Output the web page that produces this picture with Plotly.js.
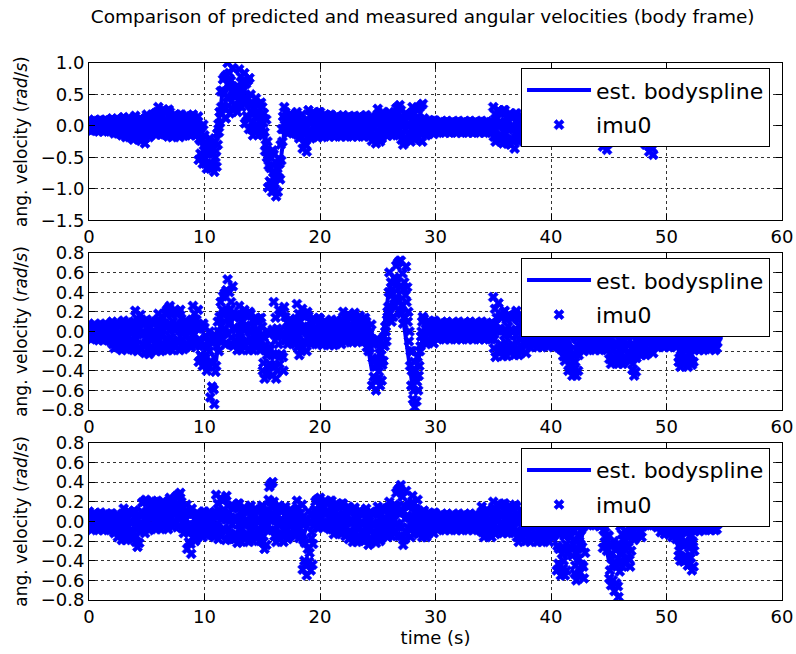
<!DOCTYPE html>
<html>
<head>
<meta charset="utf-8">
<script src="https://cdn.plot.ly/plotly-3.0.1.min.js"></script>
<style>html,body{margin:0;padding:0;background:#fff;}#chart{width:796px;height:654px;}</style>
</head>
<body>
<div id="chart"></div>
<script>
// sampling of the series (seconds)
const imuStart = 0, imuStep = 0.05;
const splineStart = 0, splineStep = 0.5;

const seriesNames = ["est. bodyspline", "imu0"];
const xTicks = [0, 10, 20, 30, 40, 50, 60];

// ---- axis 1 (rad/s), one line per second ----
const imu1 = [
 0.10,-0.05,-0.03,0.06,-0.08,0.02,0.04,-0.06,0.00,0.08, -0.07,0.02,0.07,-0.04,0.01,0.08,-0.05,-0.09,0.09,-0.01,   // 0
 0.10,-0.06,-0.03,0.06,-0.09,0.01,0.03,-0.07,0.00,0.08, -0.07,0.03,0.08,-0.04,0.02,0.09,-0.05,-0.09,0.10,0.00,    // 1
 0.12,-0.08,-0.05,0.07,-0.12,0.01,0.04,-0.10,-0.01,0.10, -0.12,0.02,0.09,-0.08,0.00,0.10,-0.09,-0.15,0.12,-0.02,  // 2
 0.14,-0.13,-0.08,0.08,-0.18,0.00,0.03,-0.15,-0.04,0.11, -0.18,0.00,0.09,-0.13,-0.02,0.11,-0.15,-0.22,0.13,-0.05, // 3
 0.16,-0.15,-0.09,0.09,-0.20,0.00,0.03,-0.16,-0.04,0.12, -0.24,-0.03,0.08,-0.18,-0.05,0.10,-0.20,-0.28,0.12,-0.09,// 4
 0.18,-0.13,-0.07,0.11,-0.18,0.02,0.05,-0.14,-0.02,0.14, -0.10,0.09,0.18,-0.05,0.07,0.20,-0.06,-0.14,0.22,0.03,   // 5
 0.30,-0.07,-0.01,0.21,-0.14,0.10,0.15,-0.10,0.06,0.26, -0.13,0.10,0.21,-0.06,0.08,0.24,-0.08,-0.17,0.26,0.03,    // 6
 0.22,-0.12,-0.06,0.14,-0.18,0.04,0.08,-0.14,0.00,0.18, -0.14,0.05,0.14,-0.09,0.03,0.16,-0.10,-0.18,0.18,-0.01,   // 7
 0.18,-0.11,-0.06,0.11,-0.16,0.03,0.06,-0.13,-0.01,0.15, -0.12,0.05,0.13,-0.07,0.03,0.15,-0.08,-0.15,0.16,0.00,   // 8
 0.18,-0.10,-0.05,0.11,-0.15,0.03,0.06,-0.12,0.00,0.15, -0.54,-0.21,-0.05,-0.44,-0.24,-0.02,-0.47,-0.60,0.02,-0.31, // 9
 -0.15,-0.60,-0.52,-0.26,-0.68,-0.39,-0.34,-0.63,-0.44,-0.20, -0.68,-0.42,-0.30,-0.60,-0.45,-0.27,-0.63,-0.73,-0.25,-0.50, // 10
 -0.40,-0.65,-0.12,-0.30,0.03,-0.10,0.22,0.05,0.55,0.30, 0.19,0.56,0.74,0.30,0.52,0.78,0.27,0.12,0.81,0.45,      // 11
 1.00,0.32,0.44,0.84,0.20,0.64,0.72,0.28,0.56,0.92, 0.26,0.48,0.59,0.33,0.46,0.61,0.31,0.22,0.63,0.41,           // 12
 0.90,0.39,0.48,0.78,0.30,0.63,0.69,0.36,0.57,0.84, 0.04,0.46,0.67,0.16,0.42,0.72,0.12,-0.05,0.76,0.33,          // 13
 0.50,-0.05,0.05,0.37,-0.15,0.21,0.27,-0.09,0.14,0.44, -0.07,0.19,0.32,0.01,0.17,0.35,-0.02,-0.12,0.37,0.11,     // 14
 0.30,-0.15,0.05,0.20,-0.10,-0.40,-0.30,0.10,-0.50,-0.25, -0.98,-0.63,-0.46,-0.88,-0.67,-0.42,-0.91,-1.05,-0.39,-0.74, // 15
 -0.45,-1.02,-0.92,-0.58,-1.12,-0.75,-0.68,-1.05,-0.82,-0.52, -0.60,-0.85,-0.30,-0.55,-0.05,-0.25,0.15,-0.05,0.30,0.10, // 16
 0.22,-0.07,-0.02,0.15,-0.12,0.07,0.10,-0.09,0.03,0.19, -0.09,0.07,0.15,-0.04,0.06,0.17,-0.06,-0.12,0.18,0.02,   // 17
 0.22,-0.14,-0.07,0.14,-0.20,0.03,0.07,-0.16,-0.01,0.18, -0.36,-0.10,0.02,-0.28,-0.13,0.05,-0.31,-0.41,0.07,-0.18, // 18
 0.25,-0.13,-0.07,0.16,-0.20,0.05,0.09,-0.16,0.00,0.21, -0.14,0.07,0.18,-0.08,0.05,0.20,-0.10,-0.18,0.22,0.01,   // 19
 0.22,-0.12,-0.06,0.14,-0.18,0.04,0.08,-0.14,0.00,0.18, -0.13,0.05,0.14,-0.08,0.03,0.16,-0.10,-0.17,0.18,0.00,   // 20
 0.17,-0.12,-0.07,0.10,-0.17,0.02,0.05,-0.14,-0.02,0.14, -0.14,0.03,0.12,-0.09,0.02,0.14,-0.10,-0.17,0.15,-0.02, // 21
 0.17,-0.12,-0.07,0.10,-0.17,0.02,0.05,-0.14,-0.02,0.14, -0.14,0.03,0.12,-0.09,0.02,0.14,-0.10,-0.17,0.15,-0.02, // 22
 0.16,-0.12,-0.06,0.10,-0.17,0.02,0.05,-0.14,-0.01,0.14, -0.13,0.03,0.12,-0.09,0.02,0.14,-0.10,-0.17,0.16,-0.02, // 23
 0.17,-0.12,-0.07,0.10,-0.17,0.02,0.05,-0.14,-0.02,0.14, -0.24,-0.01,0.10,-0.17,-0.03,0.13,-0.19,-0.28,0.15,-0.08, // 24
 0.27,-0.17,-0.09,0.17,-0.25,0.04,0.09,-0.20,-0.02,0.22, -0.12,0.06,0.15,-0.07,0.04,0.16,-0.09,-0.16,0.18,0.00,  // 25
 0.22,-0.09,-0.04,0.15,-0.15,0.05,0.09,-0.11,0.02,0.18, -0.10,0.15,0.28,-0.03,0.13,0.30,-0.05,-0.15,0.33,0.08,   // 26
 0.25,-0.22,-0.14,0.14,-0.30,0.00,0.06,-0.25,-0.05,0.20, -0.20,0.03,0.15,-0.13,0.01,0.17,-0.16,-0.25,0.20,-0.04, // 27
 0.30,-0.14,-0.06,0.20,-0.22,0.07,0.12,-0.17,0.01,0.25, -0.19,0.13,0.29,-0.09,0.10,0.32,-0.12,-0.25,0.35,0.03,   // 28
 0.12,-0.11,-0.07,0.07,-0.15,0.00,0.03,-0.12,-0.03,0.09, -0.11,0.01,0.07,-0.07,0.00,0.08,-0.08,-0.13,0.09,-0.03, // 29
 0.08,-0.08,-0.05,0.04,-0.11,-0.01,0.01,-0.09,-0.02,0.06, -0.09,0.00,0.05,-0.06,-0.01,0.06,-0.07,-0.11,0.07,-0.03, // 30
 0.08,-0.08,-0.05,0.04,-0.11,-0.01,0.01,-0.09,-0.02,0.06, -0.09,0.00,0.05,-0.06,-0.01,0.06,-0.07,-0.11,0.07,-0.03, // 31
 0.08,-0.08,-0.05,0.04,-0.11,-0.01,0.01,-0.09,-0.02,0.06, -0.09,0.00,0.05,-0.06,-0.01,0.06,-0.07,-0.11,0.07,-0.03, // 32
 0.08,-0.08,-0.05,0.04,-0.11,-0.01,0.01,-0.09,-0.02,0.06, -0.09,0.00,0.05,-0.06,-0.01,0.06,-0.07,-0.11,0.07,-0.03, // 33
 0.08,-0.08,-0.05,0.04,-0.11,-0.01,0.01,-0.09,-0.02,0.06, -0.09,0.00,0.05,-0.06,-0.01,0.06,-0.07,-0.11,0.07,-0.03, // 34
 0.30,-0.17,-0.09,0.19,-0.25,0.05,0.11,-0.20,0.00,0.25, -0.22,0.06,0.20,-0.14,0.03,0.22,-0.17,-0.28,0.25,-0.03,  // 35
 0.25,-0.20,-0.12,0.14,-0.28,0.01,0.06,-0.23,-0.04,0.20, -0.30,-0.01,0.13,-0.22,-0.04,0.16,-0.24,-0.36,0.19,-0.10, // 36
 0.20,-0.18,-0.12,0.11,-0.25,0.00,0.04,-0.21,-0.05,0.16, -0.18,0.02,0.12,-0.12,0.00,0.14,-0.14,-0.22,0.16,-0.04, // 37
 0.15,-0.15,-0.10,0.08,-0.20,-0.01,0.03,-0.17,-0.04,0.12, -0.17,0.01,0.10,-0.11,-0.01,0.12,-0.13,-0.20,0.13,-0.04, // 38
 0.15,-0.15,-0.10,0.08,-0.20,-0.01,0.03,-0.17,-0.04,0.12, -0.17,0.01,0.10,-0.11,-0.01,0.12,-0.13,-0.20,0.13,-0.04, // 39
 0.15,-0.15,-0.10,0.08,-0.20,-0.01,0.03,-0.17,-0.04,0.12, -0.17,0.01,0.10,-0.11,-0.01,0.12,-0.13,-0.20,0.13,-0.04, // 40
 0.15,-0.15,-0.10,0.08,-0.20,-0.01,0.03,-0.17,-0.04,0.12, -0.17,0.01,0.10,-0.11,-0.01,0.12,-0.13,-0.20,0.13,-0.04, // 41
 0.15,-0.15,-0.10,0.08,-0.20,-0.01,0.03,-0.17,-0.04,0.12, -0.17,0.01,0.10,-0.11,-0.01,0.12,-0.13,-0.20,0.13,-0.04, // 42
 0.15,-0.15,-0.10,0.08,-0.20,-0.01,0.03,-0.17,-0.04,0.12, -0.17,0.01,0.10,-0.11,-0.01,0.12,-0.13,-0.20,0.13,-0.04, // 43
 0.15,-0.15,-0.10,0.08,-0.20,-0.01,0.03,-0.17,-0.04,0.12, -0.33,-0.08,0.05,-0.26,-0.11,0.07,-0.28,-0.38,0.10,-0.16, // 44
 0.15,-0.18,-0.12,0.07,-0.24,-0.03,0.01,-0.20,-0.06,0.11, -0.20,-0.01,0.09,-0.14,-0.03,0.11,-0.16,-0.24,0.13,-0.07, // 45
 0.15,-0.18,-0.12,0.07,-0.24,-0.03,0.01,-0.20,-0.06,0.11, -0.20,-0.01,0.09,-0.14,-0.03,0.11,-0.16,-0.24,0.13,-0.07, // 46
 0.15,-0.18,-0.12,0.07,-0.24,-0.03,0.01,-0.20,-0.06,0.11, -0.20,-0.01,0.09,-0.14,-0.03,0.11,-0.16,-0.24,0.13,-0.07, // 47
 0.10,-0.24,-0.18,0.02,-0.30,-0.08,-0.04,-0.26,-0.12,0.06, -0.41,-0.15,-0.02,-0.33,-0.18,0.00,-0.36,-0.46,0.02,-0.23, // 48
 0.15,-0.15,-0.10,0.08,-0.20,-0.01,0.03,-0.17,-0.04,0.12, -0.17,0.01,0.10,-0.11,-0.01,0.12,-0.13,-0.20,0.13,-0.04, // 49
 0.15,-0.15,-0.10,0.08,-0.20,-0.01,0.03,-0.17,-0.04,0.12, -0.17,0.01,0.10,-0.11,-0.01,0.12,-0.13,-0.20,0.13,-0.04, // 50
 0.15,-0.15,-0.10,0.08,-0.20,-0.01,0.03,-0.17,-0.04,0.12, -0.17,0.01,0.10,-0.11,-0.01,0.12,-0.13,-0.20,0.13,-0.04, // 51
 0.15,-0.15,-0.10,0.08,-0.20,-0.01,0.03,-0.17,-0.04,0.12, -0.17,0.01,0.10,-0.11,-0.01,0.12,-0.13,-0.20,0.13,-0.04, // 52
 0.15,-0.15,-0.10,0.08,-0.20,-0.01,0.03,-0.17,-0.04,0.12, -0.17,0.01,0.10,-0.11,-0.01,0.12,-0.13,-0.20,0.13,-0.04, // 53
 0.15,-0.15,-0.10,0.08,-0.20,-0.01,0.03,-0.17,-0.04,0.12                                                          // 54
];
const spline1 = [
 0.01,0.01, 0.00,0.00, -0.01,-0.02, -0.02,-0.03, -0.03,-0.05,
 0.02,0.04, 0.08,0.08, 0.03,0.02, 0.01,0.02, 0.02,-0.10,
 -0.45,-0.45, -0.30,0.45, 0.70,0.45, 0.60,0.40, 0.20,0.15,
 0.10,-0.60, -0.85,-0.70, 0.05,0.03, 0.00,-0.15, 0.03,0.03,
 0.02,0.01, 0.00,0.00, -0.01,0.00, 0.00,-0.01, -0.01,-0.05,
 0.02,0.03, 0.05,0.10, 0.00,-0.02, 0.05,0.08, -0.01,-0.01,
 -0.01,-0.01, -0.01,-0.01, -0.01,-0.01, -0.01,-0.01, -0.01,-0.01,
 0.03,0.02, -0.02,-0.10, 0.00,-0.02, 0.00,-0.01, 0.00,0.00,
 0.00,-0.01, -0.01,0.00, 0.00,0.00, -0.05,-0.15, 0.00,-0.02,
 -0.02,0.00, -0.02,-0.01, -0.10,-0.25, 0.00,0.00, 0.00,-0.01,
 -0.01,0.00, 0.00,0.00, -0.01,0.00, 0.00,0.00, 0.00
];

// ---- axis 2 (rad/s) ----
const imu2 = [
 0.08,-0.06,-0.03,0.05,-0.08,0.01,0.02,-0.06,-0.01,0.06, -0.07,0.01,0.05,-0.05,0.00,0.06,-0.06,-0.09,0.07,-0.01,  // 0
 0.08,-0.06,-0.04,0.05,-0.09,0.00,0.02,-0.07,-0.01,0.06, -0.08,0.01,0.06,-0.05,0.00,0.07,-0.06,-0.10,0.08,-0.01,  // 1
 0.10,-0.13,-0.09,0.05,-0.17,-0.02,0.01,-0.14,-0.05,0.07, -0.16,-0.01,0.07,-0.12,-0.03,0.08,-0.13,-0.19,0.10,-0.06, // 2
 0.11,-0.14,-0.09,0.05,-0.18,-0.02,0.01,-0.15,-0.05,0.08, -0.16,0.00,0.07,-0.11,-0.02,0.09,-0.13,-0.19,0.10,-0.05, // 3
 0.21,-0.14,-0.08,0.13,-0.20,0.03,0.07,-0.16,-0.02,0.17, -0.18,-0.01,0.08,-0.13,-0.03,0.10,-0.15,-0.22,0.11,-0.06, // 4
 0.12,-0.18,-0.13,0.05,-0.23,-0.04,0.00,-0.20,-0.07,0.09, -0.17,0.00,0.08,-0.12,-0.02,0.10,-0.13,-0.20,0.11,-0.05, // 5
 0.18,-0.14,-0.09,0.10,-0.20,0.01,0.05,-0.16,-0.03,0.14, -0.15,0.08,0.19,-0.08,0.06,0.22,-0.10,-0.19,0.24,0.01,   // 6
 0.26,-0.12,-0.06,0.17,-0.19,0.06,0.10,-0.15,0.01,0.22, -0.15,0.07,0.18,-0.08,0.05,0.20,-0.10,-0.19,0.22,0.00,   // 7
 0.13,-0.13,-0.09,0.07,-0.18,-0.01,0.02,-0.15,-0.04,0.10, -0.13,0.01,0.09,-0.09,0.00,0.10,-0.10,-0.16,0.12,-0.03, // 8
 0.26,-0.09,-0.03,0.18,-0.15,0.08,0.12,-0.11,0.03,0.22, -0.31,-0.08,0.03,-0.24,-0.10,0.06,-0.26,-0.35,0.08,-0.15, // 9
 0.04,-0.33,-0.27,-0.05,-0.40,-0.16,-0.11,-0.36,-0.20,0.00, -0.67,-0.30,-0.11,-0.56,-0.33,-0.07,-0.59,-0.74,-0.04,-0.41, // 10
 -0.35,-0.05,-0.15,0.10,0.00,-0.20,0.15,-0.10,0.30,0.05, -0.07,0.22,0.36,0.02,0.19,0.39,-0.01,-0.13,0.42,0.13,   // 11
 0.53,-0.03,0.07,0.40,-0.13,0.23,0.30,-0.06,0.17,0.46, -0.15,0.04,0.14,-0.09,0.02,0.16,-0.11,-0.19,0.18,-0.02,   // 12
 0.26,-0.12,-0.06,0.17,-0.19,0.06,0.10,-0.15,0.01,0.22, -0.15,0.06,0.16,-0.09,0.04,0.18,-0.11,-0.19,0.20,-0.01,  // 13
 0.18,-0.14,-0.08,0.11,-0.19,0.01,0.05,-0.15,-0.02,0.14, -0.16,0.02,0.11,-0.10,0.00,0.13,-0.12,-0.19,0.14,-0.03,  // 14
 0.05,-0.40,-0.32,-0.06,-0.48,-0.19,-0.14,-0.43,-0.24,0.00, -0.40,-0.16,-0.03,-0.33,-0.18,-0.01,-0.35,-0.45,0.02,-0.23, // 15
 0.30,-0.36,-0.25,0.14,-0.48,-0.05,0.03,-0.40,-0.13,0.22, -0.33,0.01,0.18,-0.23,-0.03,0.21,-0.26,-0.40,0.25,-0.09, // 16
 0.15,-0.09,-0.05,0.09,-0.13,0.02,0.05,-0.10,-0.01,0.12, -0.10,0.03,0.10,-0.06,0.02,0.11,-0.08,-0.13,0.13,-0.01,  // 17
 0.28,-0.16,-0.08,0.18,-0.24,0.05,0.10,-0.19,-0.01,0.23, -0.16,0.05,0.16,-0.10,0.03,0.18,-0.12,-0.20,0.20,-0.01,  // 18
 0.16,-0.09,-0.04,0.10,-0.13,0.03,0.06,-0.10,0.00,0.13, -0.10,0.04,0.11,-0.06,0.02,0.12,-0.07,-0.13,0.14,0.00,    // 19
 0.13,-0.10,-0.06,0.08,-0.14,0.01,0.04,-0.11,-0.02,0.10, -0.11,0.02,0.08,-0.08,0.00,0.09,-0.09,-0.14,0.11,-0.02,  // 20
 0.12,-0.10,-0.06,0.07,-0.14,0.00,0.03,-0.11,-0.02,0.09, -0.10,0.03,0.09,-0.07,0.01,0.10,-0.08,-0.13,0.12,-0.01,  // 21
 0.20,-0.06,-0.02,0.14,-0.11,0.06,0.09,-0.08,0.03,0.17, -0.08,0.07,0.15,-0.04,0.06,0.16,-0.05,-0.11,0.17,0.03,    // 22
 0.19,-0.07,-0.02,0.13,-0.11,0.06,0.09,-0.08,0.03,0.16, -0.08,0.05,0.11,-0.04,0.04,0.13,-0.05,-0.10,0.14,0.01,    // 23
 0.10,-0.16,-0.11,0.04,-0.20,-0.04,-0.01,-0.17,-0.07,0.07, -0.55,-0.27,-0.13,-0.46,-0.30,-0.11,-0.49,-0.60,-0.08,-0.35, // 24
 -0.08,-0.48,-0.41,-0.17,-0.55,-0.29,-0.24,-0.50,-0.34,-0.13, -0.30,-0.05,-0.15,0.05,0.00,-0.10,0.12,0.20,0.25,0.40, // 25
 0.60,0.18,0.25,0.50,0.10,0.38,0.43,0.15,0.33,0.55, 0.26,0.53,0.67,0.34,0.50,0.70,0.31,0.20,0.72,0.45,            // 26
 0.72,0.18,0.27,0.59,0.08,0.43,0.50,0.14,0.37,0.66, 0.30,0.45,0.10,0.20,-0.10,0.00,-0.35,-0.20,-0.55,-0.40,       // 27
 -0.20,-0.69,-0.60,-0.31,-0.77,-0.46,-0.40,-0.71,-0.51,-0.26, -0.60,-0.45,-0.35,-0.20,-0.15,-0.05,0.00,0.10,0.15,-0.10, // 28
 0.13,-0.09,-0.05,0.08,-0.13,0.01,0.04,-0.10,-0.01,0.10, -0.10,0.02,0.08,-0.06,0.01,0.10,-0.07,-0.12,0.11,-0.01,  // 29
 0.10,-0.05,-0.03,0.06,-0.08,0.02,0.04,-0.06,0.00,0.08, -0.06,0.03,0.07,-0.04,0.02,0.08,-0.04,-0.08,0.09,0.00,    // 30
 0.10,-0.05,-0.03,0.06,-0.08,0.02,0.04,-0.06,0.00,0.08, -0.06,0.03,0.07,-0.04,0.02,0.08,-0.04,-0.08,0.09,0.00,    // 31
 0.10,-0.05,-0.03,0.06,-0.08,0.02,0.04,-0.06,0.00,0.08, -0.06,0.03,0.07,-0.04,0.02,0.08,-0.04,-0.08,0.09,0.00,    // 32
 0.10,-0.05,-0.03,0.06,-0.08,0.02,0.04,-0.06,0.00,0.08, -0.06,0.03,0.07,-0.04,0.02,0.08,-0.04,-0.08,0.09,0.00,    // 33
 0.10,-0.05,-0.03,0.06,-0.08,0.02,0.04,-0.06,0.00,0.08, -0.06,0.03,0.07,-0.04,0.02,0.08,-0.04,-0.08,0.09,0.00,    // 34
 0.35,-0.17,-0.08,0.23,-0.26,0.08,0.14,-0.20,0.01,0.29, -0.20,0.03,0.15,-0.13,0.01,0.17,-0.16,-0.25,0.20,-0.04,  // 35
 0.21,-0.18,-0.11,0.12,-0.25,0.00,0.05,-0.20,-0.04,0.16, -0.20,0.02,0.13,-0.13,0.00,0.16,-0.15,-0.24,0.18,-0.04,  // 36
 0.21,-0.17,-0.11,0.12,-0.24,0.01,0.05,-0.20,-0.04,0.17, -0.18,0.02,0.12,-0.12,0.00,0.14,-0.14,-0.22,0.16,-0.04,  // 37
 0.14,-0.12,-0.07,0.08,-0.16,0.01,0.04,-0.13,-0.02,0.11, -0.13,0.01,0.08,-0.09,-0.01,0.09,-0.10,-0.16,0.11,-0.03, // 38
 0.12,-0.12,-0.08,0.06,-0.16,-0.01,0.02,-0.13,-0.03,0.09, -0.13,0.00,0.06,-0.09,-0.01,0.08,-0.10,-0.15,0.09,-0.04, // 39
 0.10,-0.12,-0.08,0.05,-0.16,-0.02,0.01,-0.13,-0.04,0.07, -0.15,-0.02,0.04,-0.12,-0.04,0.05,-0.13,-0.18,0.07,-0.06, // 40
 0.05,-0.25,-0.20,-0.02,-0.30,-0.11,-0.07,-0.27,-0.14,0.02, -0.40,-0.17,-0.05,-0.33,-0.19,-0.03,-0.36,-0.45,0.00,-0.24, // 41
 0.02,-0.38,-0.31,-0.07,-0.45,-0.19,-0.14,-0.40,-0.24,-0.03, -0.17,-0.03,0.04,-0.13,-0.05,0.05,-0.14,-0.20,0.07,-0.07, // 42
 0.08,-0.15,-0.11,0.03,-0.19,-0.04,-0.01,-0.16,-0.07,0.05, -0.16,-0.03,0.04,-0.12,-0.04,0.05,-0.14,-0.19,0.07,-0.07, // 43
 0.05,-0.15,-0.12,0.00,-0.19,-0.06,-0.03,-0.17,-0.08,0.03, -0.17,-0.05,0.01,-0.13,-0.06,0.03,-0.14,-0.19,0.04,-0.08, // 44
 0.00,-0.28,-0.23,-0.07,-0.33,-0.15,-0.12,-0.30,-0.18,-0.03, -0.30,-0.12,-0.03,-0.24,-0.14,-0.02,-0.26,-0.33,0.00,-0.17, // 45
 0.02,-0.28,-0.23,-0.05,-0.33,-0.14,-0.10,-0.30,-0.17,-0.02, -0.27,-0.12,-0.05,-0.23,-0.14,-0.03,-0.24,-0.30,-0.02,-0.17, // 46
 -0.05,-0.39,-0.33,-0.13,-0.45,-0.23,-0.19,-0.41,-0.27,-0.09, -0.21,-0.07,0.01,-0.17,-0.08,0.02,-0.18,-0.24,0.04,-0.11, // 47
 0.05,-0.20,-0.15,-0.01,-0.24,-0.08,-0.05,-0.21,-0.11,0.02, -0.19,-0.06,0.01,-0.15,-0.07,0.02,-0.17,-0.22,0.04,-0.10, // 48
 0.04,-0.13,-0.10,0.00,-0.16,-0.05,-0.03,-0.14,-0.07,0.02, -0.14,-0.04,0.01,-0.11,-0.05,0.02,-0.12,-0.16,0.03,-0.07, // 49
 0.05,-0.13,-0.10,0.01,-0.16,-0.04,-0.02,-0.14,-0.07,0.03, -0.14,-0.03,0.02,-0.11,-0.04,0.03,-0.12,-0.16,0.04,-0.07, // 50
 -0.05,-0.31,-0.27,-0.11,-0.36,-0.19,-0.16,-0.33,-0.22,-0.08, -0.33,-0.17,-0.10,-0.28,-0.19,-0.08,-0.30,-0.36,-0.07,-0.22, // 51
 0.00,-0.29,-0.24,-0.07,-0.34,-0.15,-0.12,-0.31,-0.19,-0.03, -0.17,-0.08,-0.03,-0.14,-0.09,-0.02,-0.15,-0.19,-0.01,-0.10, // 52
 0.02,-0.16,-0.13,-0.02,-0.19,-0.07,-0.05,-0.17,-0.10,0.00, -0.16,-0.07,-0.03,-0.14,-0.08,-0.02,-0.14,-0.18,-0.01,-0.10, // 53
 -0.02,-0.16,-0.14,-0.05,-0.19,-0.10,-0.08,-0.17,-0.11,-0.04                                                      // 54
];
const spline2 = [
 0.00,0.00, 0.00,-0.01, -0.03,-0.04, -0.03,-0.03, 0.00,-0.03,
 -0.04,-0.03, 0.02,0.04, 0.05,0.04, -0.01,0.00, 0.05,-0.15,
 -0.15,-0.20, -0.30,0.15, 0.25,0.02, 0.03,0.02, -0.01,-0.01,
 -0.20,-0.25, -0.10,-0.05, 0.01,0.00, 0.03,0.00, 0.01,0.00,
 0.00,0.00, -0.01,0.00, 0.04,0.04, 0.04,0.03, -0.05,-0.40,
 -0.30,0.00, 0.45,0.55, 0.30,-0.10, -0.55,-0.30, 0.00,0.00,
 0.01,0.01, 0.01,0.01, 0.01,0.01, 0.01,0.01, 0.01,0.01,
 0.05,-0.02, 0.00,-0.02, 0.00,-0.01, -0.01,-0.02, -0.02,-0.03,
 -0.03,-0.05, -0.10,-0.25, -0.25,-0.08, -0.05,-0.05, -0.05,-0.08,
 -0.15,-0.15, -0.15,-0.20, -0.25,-0.10, -0.08,-0.06, -0.05,-0.05,
 -0.05,-0.06, -0.15,-0.20, -0.15,-0.08, -0.08,-0.08, -0.08
];

// ---- axis 3 (rad/s) ----
const imu3 = [
 0.10,-0.06,-0.03,0.06,-0.09,0.02,0.03,-0.07,0.00,0.08, -0.07,0.02,0.06,-0.05,0.01,0.07,-0.05,-0.09,0.08,-0.01,  // 0
 0.09,-0.06,-0.04,0.05,-0.09,0.01,0.03,-0.07,-0.01,0.07, -0.07,0.02,0.06,-0.05,0.01,0.07,-0.05,-0.09,0.08,-0.01,  // 1
 0.08,-0.09,-0.06,0.04,-0.12,-0.01,0.01,-0.10,-0.03,0.06, -0.16,-0.02,0.05,-0.12,-0.04,0.06,-0.13,-0.19,0.08,-0.06, // 2
 0.13,-0.14,-0.09,0.07,-0.19,-0.01,0.02,-0.16,-0.05,0.10, -0.15,0.00,0.08,-0.11,-0.02,0.09,-0.12,-0.18,0.11,-0.05, // 3
 0.10,-0.21,-0.15,0.03,-0.26,-0.06,-0.03,-0.22,-0.10,0.06, -0.08,0.10,0.19,-0.03,0.08,0.20,-0.05,-0.12,0.22,0.04,  // 4
 0.21,-0.05,0.00,0.15,-0.09,0.08,0.11,-0.06,0.05,0.18, -0.05,0.11,0.18,0.00,0.09,0.20,-0.02,-0.08,0.21,0.06,       // 5
 0.20,-0.04,0.00,0.14,-0.08,0.07,0.10,-0.05,0.05,0.17, -0.05,0.10,0.18,-0.01,0.09,0.19,-0.02,-0.08,0.21,0.06,      // 6
 0.24,-0.02,0.03,0.18,-0.06,0.11,0.14,-0.03,0.08,0.21, -0.01,0.17,0.26,0.04,0.15,0.27,0.02,-0.05,0.29,0.11,        // 7
 0.20,-0.07,-0.02,0.14,-0.12,0.06,0.09,-0.09,0.02,0.17, -0.28,-0.04,0.08,-0.21,-0.07,0.10,-0.23,-0.33,0.13,-0.11,  // 8
 0.08,-0.16,-0.12,0.02,-0.20,-0.05,-0.02,-0.17,-0.07,0.05, -0.13,0.00,0.07,-0.09,-0.01,0.08,-0.11,-0.16,0.10,-0.04, // 9
 0.10,-0.10,-0.07,0.05,-0.14,-0.01,0.02,-0.12,-0.03,0.08, -0.13,0.00,0.07,-0.09,-0.01,0.08,-0.11,-0.16,0.10,-0.04, // 10
 0.27,-0.11,-0.05,0.18,-0.18,0.07,0.11,-0.14,0.02,0.23, -0.14,0.09,0.21,-0.07,0.07,0.23,-0.10,-0.19,0.26,0.02,    // 11
 0.16,-0.13,-0.08,0.09,-0.18,0.01,0.04,-0.15,-0.03,0.13, -0.18,0.03,0.14,-0.12,0.01,0.16,-0.14,-0.22,0.18,-0.03,  // 12
 0.18,-0.15,-0.09,0.10,-0.21,0.01,0.04,-0.17,-0.03,0.14, -0.17,0.01,0.10,-0.12,-0.01,0.12,-0.14,-0.21,0.14,-0.04, // 13
 0.16,-0.15,-0.09,0.09,-0.20,0.00,0.03,-0.16,-0.04,0.12, -0.17,0.01,0.10,-0.11,-0.01,0.12,-0.13,-0.20,0.13,-0.04, // 14
 0.16,-0.21,-0.15,0.07,-0.28,-0.04,0.01,-0.24,-0.08,0.12, -0.04,0.22,0.35,0.04,0.20,0.38,0.01,-0.09,0.40,0.14,    // 15
 0.20,-0.15,-0.09,0.12,-0.21,0.02,0.06,-0.17,-0.03,0.16, -0.17,0.01,0.10,-0.12,-0.01,0.11,-0.14,-0.21,0.13,-0.05, // 16
 0.15,-0.13,-0.08,0.08,-0.18,0.00,0.03,-0.15,-0.03,0.12, -0.12,0.02,0.09,-0.08,0.00,0.10,-0.09,-0.15,0.12,-0.02,  // 17
 0.21,-0.11,-0.06,0.13,-0.17,0.04,0.08,-0.13,0.00,0.17, -0.49,-0.19,-0.04,-0.40,-0.22,-0.01,-0.43,-0.55,0.02,-0.28, // 18
 0.10,-0.41,-0.32,-0.02,-0.50,-0.17,-0.11,-0.44,-0.23,0.04, -0.04,0.12,0.20,0.01,0.11,0.22,-0.01,-0.07,0.23,0.07, // 19
 0.24,-0.02,0.03,0.18,-0.06,0.11,0.14,-0.03,0.08,0.21, -0.05,0.10,0.18,-0.01,0.09,0.19,-0.02,-0.08,0.21,0.06,      // 20
 0.21,-0.08,-0.03,0.14,-0.13,0.06,0.09,-0.10,0.02,0.18, -0.10,0.07,0.15,-0.05,0.05,0.17,-0.06,-0.13,0.18,0.02,    // 21
 0.18,-0.10,-0.05,0.11,-0.15,0.03,0.06,-0.12,0.00,0.15, -0.18,0.00,0.09,-0.12,-0.02,0.11,-0.14,-0.21,0.12,-0.05,  // 22
 0.14,-0.16,-0.11,0.07,-0.21,-0.02,0.02,-0.18,-0.05,0.11, -0.17,-0.01,0.07,-0.12,-0.02,0.09,-0.14,-0.20,0.10,-0.06, // 23
 0.13,-0.19,-0.13,0.06,-0.24,-0.04,0.00,-0.20,-0.07,0.09, -0.19,-0.02,0.07,-0.14,-0.03,0.09,-0.15,-0.22,0.10,-0.07, // 24
 0.15,-0.15,-0.10,0.08,-0.20,-0.01,0.03,-0.17,-0.04,0.12, -0.13,0.03,0.11,-0.08,0.02,0.13,-0.10,-0.16,0.14,-0.02,  // 25
 0.20,-0.10,-0.05,0.13,-0.15,0.04,0.08,-0.12,0.01,0.17, -0.10,0.16,0.29,-0.02,0.14,0.32,-0.05,-0.15,0.34,0.08,    // 26
 0.37,-0.15,-0.06,0.25,-0.24,0.10,0.16,-0.18,0.03,0.31, -0.12,0.06,0.15,-0.07,0.04,0.16,-0.09,-0.16,0.18,0.00,    // 27
 0.26,-0.06,-0.01,0.18,-0.12,0.09,0.13,-0.08,0.05,0.22, -0.13,0.00,0.07,-0.09,-0.01,0.08,-0.11,-0.16,0.10,-0.04,  // 28
 0.11,-0.12,-0.08,0.06,-0.16,-0.01,0.02,-0.13,-0.04,0.08, -0.10,0.01,0.07,-0.07,0.00,0.08,-0.08,-0.12,0.09,-0.02,  // 29
 0.08,-0.06,-0.04,0.05,-0.09,0.00,0.02,-0.07,-0.01,0.06, -0.07,0.01,0.05,-0.05,0.00,0.06,-0.06,-0.09,0.07,-0.01,   // 30
 0.08,-0.06,-0.04,0.05,-0.09,0.00,0.02,-0.07,-0.01,0.06, -0.07,0.01,0.05,-0.05,0.00,0.06,-0.06,-0.09,0.07,-0.01,   // 31
 0.08,-0.06,-0.04,0.05,-0.09,0.00,0.02,-0.07,-0.01,0.06, -0.07,0.01,0.05,-0.05,0.00,0.06,-0.06,-0.09,0.07,-0.01,   // 32
 0.08,-0.06,-0.04,0.05,-0.09,0.00,0.02,-0.07,-0.01,0.06, -0.07,0.01,0.05,-0.05,0.00,0.06,-0.06,-0.09,0.07,-0.01,   // 33
 0.15,-0.11,-0.07,0.09,-0.16,0.01,0.04,-0.13,-0.02,0.12, -0.13,0.01,0.08,-0.09,-0.01,0.09,-0.10,-0.16,0.11,-0.03,  // 34
 0.20,-0.08,-0.03,0.13,-0.13,0.05,0.08,-0.10,0.02,0.17, -0.09,0.07,0.15,-0.04,0.06,0.17,-0.06,-0.12,0.18,0.02,    // 35
 0.18,-0.08,-0.03,0.12,-0.12,0.05,0.08,-0.09,0.02,0.15, -0.09,0.06,0.14,-0.05,0.05,0.15,-0.06,-0.12,0.17,0.02,    // 36
 0.15,-0.16,-0.10,0.08,-0.21,-0.01,0.02,-0.17,-0.05,0.11, -0.17,0.00,0.09,-0.12,-0.01,0.11,-0.13,-0.20,0.12,-0.05, // 37
 0.16,-0.16,-0.10,0.09,-0.21,-0.01,0.03,-0.17,-0.04,0.12, -0.18,0.00,0.09,-0.12,-0.02,0.11,-0.14,-0.21,0.12,-0.05, // 38
 0.14,-0.16,-0.11,0.07,-0.21,-0.02,0.02,-0.18,-0.05,0.11, -0.18,-0.01,0.07,-0.13,-0.03,0.09,-0.14,-0.21,0.10,-0.06, // 39
 0.08,-0.12,-0.08,0.03,-0.15,-0.02,0.00,-0.13,-0.05,0.06, -0.50,-0.25,-0.12,-0.43,-0.28,-0.10,-0.45,-0.55,-0.08,-0.33, // 40
 -0.05,-0.48,-0.40,-0.15,-0.55,-0.28,-0.23,-0.50,-0.33,-0.10, -0.32,-0.14,-0.05,-0.26,-0.16,-0.04,-0.28,-0.35,-0.02,-0.19, // 41
 -0.10,-0.53,-0.45,-0.20,-0.60,-0.33,-0.28,-0.55,-0.38,-0.15, -0.52,-0.23,-0.09,-0.44,-0.26,-0.06,-0.46,-0.58,-0.03,-0.32, // 42
 0.10,-0.02,0.00,0.07,-0.04,0.04,0.05,-0.03,0.02,0.09, -0.03,0.04,0.08,-0.01,0.04,0.09,-0.01,-0.04,0.09,0.02,      // 43
 0.08,-0.03,-0.01,0.05,-0.05,0.02,0.03,-0.04,0.01,0.07, -0.27,-0.09,0.00,-0.21,-0.11,0.02,-0.23,-0.30,0.03,-0.14,  // 44
 -0.15,-0.58,-0.50,-0.25,-0.65,-0.38,-0.33,-0.60,-0.43,-0.20, -0.71,-0.43,-0.29,-0.63,-0.46,-0.26,-0.66,-0.77,-0.23,-0.51, // 45
 -0.05,-0.40,-0.34,-0.13,-0.46,-0.23,-0.19,-0.42,-0.28,-0.09, -0.42,-0.24,-0.15,-0.37,-0.26,-0.14,-0.39,-0.46,-0.12,-0.30, // 46
 0.08,-0.15,-0.11,0.03,-0.19,-0.04,-0.01,-0.16,-0.07,0.05, -0.14,-0.02,0.04,-0.10,-0.03,0.06,-0.11,-0.16,0.07,-0.05, // 47
 0.10,-0.02,0.00,0.07,-0.04,0.04,0.05,-0.03,0.02,0.09, -0.03,0.04,0.08,-0.01,0.04,0.09,-0.01,-0.04,0.09,0.02,      // 48
 0.08,-0.04,-0.02,0.05,-0.06,0.02,0.03,-0.05,0.00,0.07, -0.11,-0.02,0.02,-0.09,-0.03,0.03,-0.09,-0.13,0.04,-0.05,  // 49
 0.10,-0.10,-0.06,0.05,-0.13,0.00,0.02,-0.11,-0.03,0.08, -0.16,-0.04,0.02,-0.12,-0.05,0.03,-0.13,-0.18,0.04,-0.08,  // 50
 -0.05,-0.35,-0.30,-0.12,-0.40,-0.21,-0.17,-0.37,-0.24,-0.09, -0.41,-0.21,-0.11,-0.35,-0.23,-0.09,-0.37,-0.45,-0.07,-0.27, // 51
 -0.05,-0.43,-0.37,-0.14,-0.50,-0.25,-0.21,-0.46,-0.30,-0.10, -0.09,-0.01,0.03,-0.06,-0.02,0.04,-0.07,-0.10,0.04,-0.03, // 52
 0.06,-0.07,-0.05,0.03,-0.09,-0.01,0.01,-0.08,-0.02,0.05, -0.08,0.00,0.04,-0.05,-0.01,0.05,-0.06,-0.09,0.05,-0.02,  // 53
 0.05,-0.07,-0.05,0.02,-0.09,-0.01,0.00,-0.08,-0.03,0.04                                                          // 54
];
const spline3 = [
 0.00,0.01, 0.00,0.00, -0.02,-0.03, -0.02,-0.03, 0.00,0.05,
 0.06,0.07, 0.07,0.07, 0.10,0.10, 0.05,-0.10, -0.03,-0.03,
 -0.02,-0.02, 0.03,0.05, 0.00,-0.01, -0.02,-0.02, -0.02,-0.02,
 0.02,0.12, -0.02,-0.02, -0.02,-0.02, -0.01,-0.20, 0.05,0.08,
 0.08,0.07, 0.04,0.04, -0.03,-0.03, -0.03,-0.03, -0.05,-0.05,
 -0.02,-0.01, 0.02,0.08, 0.06,0.05, 0.04,-0.03, -0.03,-0.01,
 0.00,0.00, 0.00,0.00, 0.00,0.00, 0.00,0.00, 0.00,-0.01,
 0.03,0.04, 0.04,0.03, -0.02,-0.03, -0.02,-0.02, -0.03,-0.03,
 -0.05,-0.25, -0.30,-0.25, -0.30,-0.25, 0.02,0.02, 0.00,-0.05,
 -0.40,-0.45, -0.30,-0.20, -0.05,-0.04, 0.02,0.00, -0.02,-0.03,
 -0.02,-0.10, -0.25,-0.25, -0.25,-0.03, -0.02,-0.02, -0.03
];

const imuSets = [imu1, imu2, imu3];
const splineSets = [spline1, spline2, spline3];
const yRanges = [[-1.5, 1.0], [-0.8, 0.8], [-0.8, 0.8]];
const yTickSteps = [0.5, 0.2, 0.2];

const BLUE = '#0000ff';
const FONT = 'DejaVu Sans, Liberation Sans, sans-serif';
const traces = [];
for (let i = 0; i < 3; i++) {
  const s = i === 0 ? '' : String(i + 1);
  traces.push({
    type: 'scatter', mode: 'lines', name: seriesNames[0],
    x0: splineStart, dx: splineStep, y: splineSets[i],
    xaxis: 'x' + s, yaxis: 'y' + s,
    line: {color: BLUE, width: 4},
    legend: 'legend' + s, legendgroup: 'a' + i, hoverinfo: 'skip'
  });
  traces.push({
    type: 'scatter', mode: 'markers', name: seriesNames[1],
    x0: imuStart, dx: imuStep, y: imuSets[i],
    xaxis: 'x' + s, yaxis: 'y' + s,
    marker: {symbol: 'x', size: 9, color: BLUE, line: {color: BLUE, width: 0.6}},
    legend: 'legend' + s, legendgroup: 'b' + i, hoverinfo: 'skip'
  });
}

const domains = [[0.7072, 1.0], [0.3536, 0.6464], [0.0, 0.2928]];
const legendTops = [0.9901, 0.6365, 0.2829];
const layout = {
  width: 796, height: 654,
  margin: {l: 89, r: 14, t: 63, b: 54},
  paper_bgcolor: '#fff', plot_bgcolor: '#fff',
  font: {family: FONT, size: 18, color: '#000'},
  showlegend: true,
  title: {text: 'Comparison of predicted and measured angular velocities (body frame)',
          font: {family: FONT, size: 18.5, color: '#000'},
          x: 0.531, xanchor: 'center', y: 0.975, yanchor: 'middle'},
};
for (let i = 0; i < 3; i++) {
  const s = i === 0 ? '' : String(i + 1);
  layout['xaxis' + s] = {
    anchor: 'y' + s, domain: [0, 1], range: [0, 60],
    tickmode: 'array', tickvals: xTicks, ticktext: xTicks.map(String),
    ticks: 'inside', ticklen: 6, tickcolor: '#000', tickwidth: 1,
    showline: true, linecolor: '#000', linewidth: 1, mirror: 'ticks',
    showgrid: true, gridcolor: '#333', griddash: 'dot', gridwidth: 1,
    zeroline: false, tickfont: {size: 18, family: FONT},
    title: i === 2 ? {text: 'time (s)', font: {size: 18, family: FONT}, standoff: 4} : {text: ''}
  };
  layout['yaxis' + s] = {
    anchor: 'x' + s, domain: domains[i], range: yRanges[i],
    dtick: yTickSteps[i], tick0: 0, tickformat: '.1f',
    ticks: 'inside', ticklen: 6, tickcolor: '#000', tickwidth: 1,
    showline: true, linecolor: '#000', linewidth: 1, mirror: 'ticks',
    showgrid: true, gridcolor: '#333', griddash: 'dot', gridwidth: 1,
    zeroline: false, tickfont: {size: 18, family: FONT},
    title: {text: 'ang. velocity (<i>rad</i>/<i>s</i>)', font: {size: 17, family: FONT}, standoff: 8}
  };
  layout['legend' + s] = {
    x: 0.6234, xanchor: 'left', y: legendTops[i], yanchor: 'top',
    bgcolor: '#fff', bordercolor: '#000', borderwidth: 1,
    font: {size: 22, family: FONT, color: '#000'},
    itemwidth: 64, tracegroupgap: 3, traceorder: 'grouped'
  };
}
Plotly.newPlot('chart', traces, layout, {staticPlot: true, displayModeBar: false});
</script>
</body>
</html>
